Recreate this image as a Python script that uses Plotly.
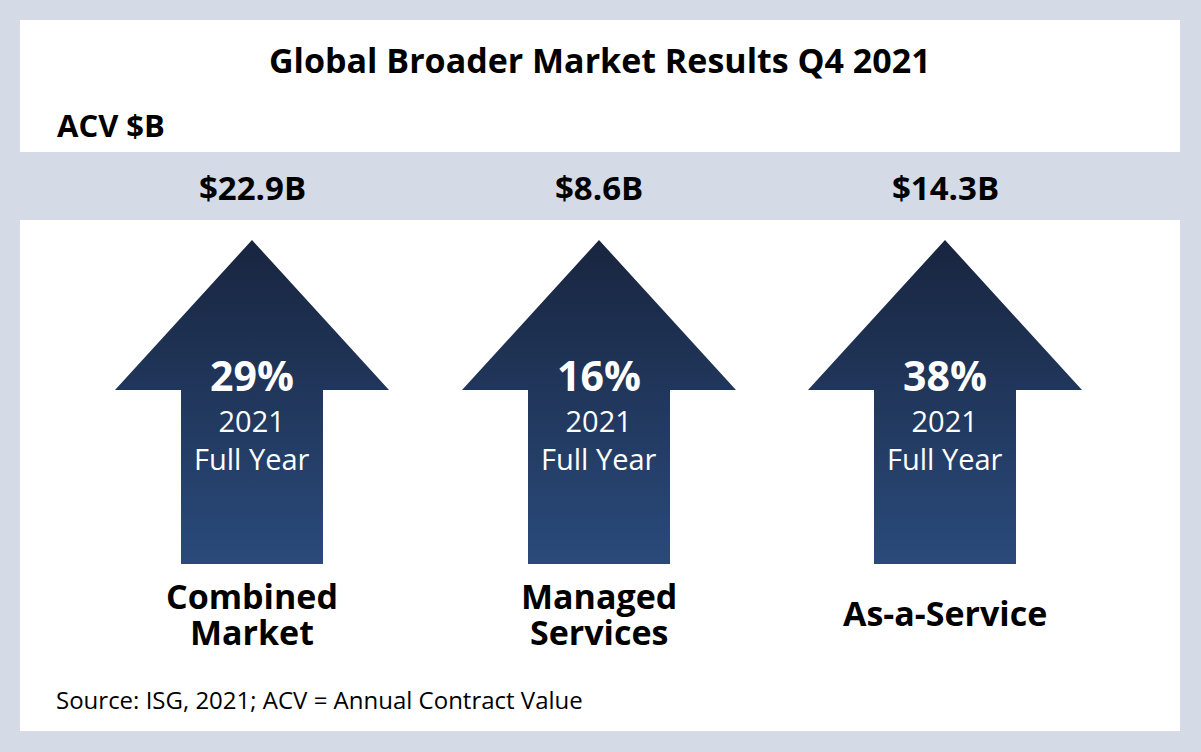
import plotly.graph_objects as go

# ---- data ----
categories = ["Combined<br>Market", "Managed<br>Services", "As-a-Service"]
acv_labels = ["$22.9B", "$8.6B", "$14.3B"]
growth_pct = [29, 16, 38]
period_label = "2021<br>Full Year"
title_text = "Global Broader Market Results Q4 2021"
unit_text = "ACV $B"
source_text = "Source: ISG, 2021; ACV = Annual Contract Value"

# ---- layout constants (pixel space) ----
W, H = 1201, 752
BG = "#d4dae6"
centers = [252, 599, 945]
tip_y, base_y, bottom_y = 240, 390, 564
head_half, shaft_half = 137, 71
FONT = "Open Sans"

fig = go.Figure()

shapes = [
    dict(type="rect", x0=20, x1=1180, y0=20, y1=152, fillcolor="white", line_width=0, layer="below"),
    dict(type="rect", x0=20, x1=1180, y0=220, y1=731, fillcolor="white", line_width=0, layer="below"),
]

for i, cx in enumerate(centers):
    xs = [cx, cx + head_half, cx + shaft_half, cx + shaft_half, cx - shaft_half, cx - shaft_half, cx - head_half, cx]
    ys = [tip_y, base_y, base_y, bottom_y, bottom_y, base_y, base_y, tip_y]
    fig.add_trace(go.Scatter(
        x=xs, y=ys, mode="lines", fill="toself",
        line=dict(width=0, color="rgba(0,0,0,0)"),
        fillgradient=dict(type="vertical", colorscale=[[0, "#2a4a7b"], [1, "#18253f"]]),
        hoverinfo="skip", showlegend=False,
    ))

annotations = [
    dict(x=600, y=60, text="<b>" + title_text + "</b>", font=dict(size=34, color="black", family=FONT)),
    dict(x=55, y=125, text="<b>" + unit_text + "</b>", xanchor="left", font=dict(size=31, color="black", family=FONT)),
    dict(x=54, y=699, text=source_text, xanchor="left", font=dict(size=24, color="black", family=FONT)),
]
for i, cx in enumerate(centers):
    annotations.append(dict(x=cx, y=187, text="<b>" + acv_labels[i] + "</b>",
                            font=dict(size=33, color="black", family=FONT)))
    annotations.append(dict(x=cx, y=375, text="<b>%d%%</b>" % growth_pct[i],
                            font=dict(size=41, color="white", family=FONT)))
    annotations.append(dict(x=cx, y=439, text=period_label,
                            font=dict(size=29, color="white", family=FONT)))
    lines = categories[i].split("<br>")
    ys_lines = [613] if len(lines) == 1 else [596, 632]
    for line, yl in zip(lines, ys_lines):
        annotations.append(dict(x=cx, y=yl, text="<b>" + line + "</b>",
                                font=dict(size=34, color="black", family=FONT)))

for a in annotations:
    a.setdefault("xanchor", "center")
    a.update(yanchor="middle", showarrow=False, xref="x", yref="y")

fig.update_layout(
    width=W, height=H, margin=dict(l=0, r=0, t=0, b=0),
    paper_bgcolor=BG, plot_bgcolor=BG,
    xaxis=dict(range=[0, W], visible=False, fixedrange=True),
    yaxis=dict(range=[H, 0], visible=False, fixedrange=True),
    shapes=shapes, annotations=annotations, showlegend=False,
)

fig.write_html("out.html", config={"displayModeBar": False},
               post_script="document.body.style.margin='0';document.body.style.overflow='hidden';")
